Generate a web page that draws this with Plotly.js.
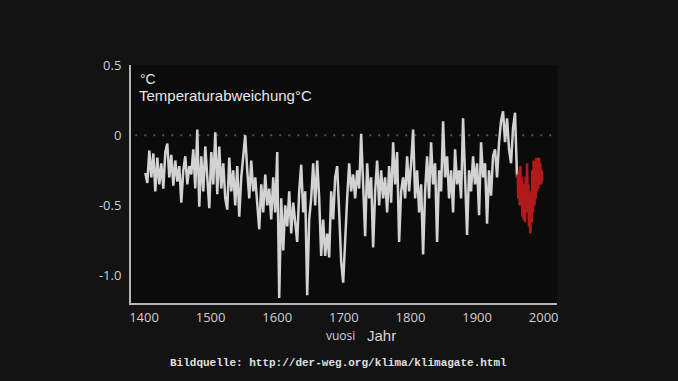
<!DOCTYPE html>
<html>
<head>
<meta charset="utf-8">
<script src="https://cdn.plot.ly/plotly-3.0.1.min.js"></script>
<style>html,body{margin:0;padding:0;background:#131313;}#chart{width:678px;height:381px;}</style>
</head>
<body>
<div id="chart"></div>
<script>
// Reconstruction series (white), years
const reconYears = [
1402,1405,1408,1411,1414,1417,1420,1423,1426,1429,
1432,1435,1438,1441,1444,1447,1450,1453,1456,1459,
1462,1465,1468,1471,1474,1477,1480,1483,1486,1489,
1492,1495,1498,1501,1504,1507,1510,1513,1516,1519,
1522,1525,1528,1531,1534,1537,1540,1543,1546,1549,
1552,1555,1558,1561,1564,1567,1570,1573,1576,1579,
1582,1585,1588,1591,1594,1597,1600,1603,1606,1609,
1612,1615,1618,1621,1624,1627,1630,1633,1636,1639,
1642,1645,1648,1651,1654,1657,1660,1663,1666,1669,
1672,1675,1678,1681,1684,1687,1690,1693,1696,1699,
1702,1705,1708,1711,1714,1717,1720,1723,1726,1729,
1732,1735,1738,1741,1744,1747,1750,1753,1756,1759,
1762,1765,1768,1771,1774,1777,1780,1783,1786,1789,
1792,1795,1798,1801,1804,1807,1810,1813,1816,1819,
1822,1825,1828,1831,1834,1837,1840,1843,1846,1849,
1852,1855,1858,1861,1864,1867,1870,1873,1876,1879,
1882,1885,1888,1891,1894,1897,1900,1903,1906,1909,
1912,1915,1918,1921,1924,1927,1930,1933,1936,1939,
1942,1945,1948,1951,1954,1957,1960
];
const reconValues = [
-0.27,-0.34,-0.11,-0.30,-0.13,-0.40,-0.16,-0.35,-0.20,-0.38,
-0.12,-0.06,-0.30,-0.14,-0.36,-0.18,-0.33,-0.22,-0.48,-0.25,
-0.15,-0.35,-0.22,-0.28,-0.10,-0.38,0.04,-0.51,-0.15,-0.40,
-0.08,-0.30,-0.52,-0.12,-0.35,0.02,-0.42,-0.08,-0.38,-0.20,
-0.45,-0.53,-0.16,-0.40,-0.25,-0.50,-0.22,-0.58,-0.30,-0.15,
0.00,-0.25,-0.45,-0.18,-0.40,-0.30,-0.52,-0.67,-0.35,-0.55,
-0.28,-0.50,-0.38,-0.60,-0.30,-0.55,-0.12,-1.16,-0.45,-0.82,
-0.50,-0.65,-0.40,-0.70,-0.48,-0.60,-0.76,-0.40,-0.21,-0.55,
-0.40,-1.14,-0.60,-0.45,-0.20,-0.50,-0.18,-0.45,-0.86,-0.60,
-0.86,-0.70,-0.87,-0.40,-0.60,-0.30,-0.22,-0.55,-0.90,-1.05,
-0.70,-0.45,-0.20,-0.40,-0.28,-0.45,-0.25,-0.38,0.01,-0.35,
-0.72,-0.20,-0.45,-0.30,-0.80,-0.40,-0.18,-0.50,-0.25,-0.45,
-0.30,-0.55,-0.22,-0.48,-0.05,-0.35,-0.12,-0.76,-0.40,-0.30,
-0.45,-0.15,-0.40,-0.20,0.04,-0.45,-0.25,-0.55,-0.35,-0.85,
-0.40,-0.15,-0.45,-0.05,-0.35,-0.20,-0.76,-0.25,-0.40,0.10,
-0.30,-0.15,-0.45,-0.25,-0.55,-0.10,-0.35,-0.25,-0.45,0.12,
-0.30,-0.71,-0.25,-0.40,-0.15,-0.35,-0.20,-0.57,-0.05,-0.30,
-0.20,-0.63,-0.25,-0.43,-0.15,-0.10,-0.30,-0.05,0.10,0.17,
-0.05,0.12,-0.10,-0.20,0.05,0.16,-0.30
];
// Recent series (red)
const recentYears = [
1960,1961,1962,1963,1964,1965,1966,1967,1968,1969,
1970,1971,1972,1973,1974,1975,1976,1977,1978,1979,
1980,1981,1982,1983,1984,1985,1986,1987,1988,1989,
1990,1991,1992,1993,1994,1995,1996,1997,1998
];
const recentValues = [
-0.30,-0.28,-0.45,-0.25,-0.50,-0.22,-0.48,-0.30,-0.58,-0.35,
-0.60,-0.40,-0.62,-0.30,-0.55,-0.20,-0.52,-0.35,-0.65,-0.45,
-0.70,-0.40,-0.62,-0.25,-0.55,-0.18,-0.50,-0.30,-0.45,-0.16,
-0.40,-0.22,-0.38,-0.16,-0.30,-0.20,-0.35,-0.25,-0.33
];
const xTickVals = [1400,1500,1600,1700,1800,1900,2000];
const xTickText = ['1400','1500','1600','1700','1800','1900','2000'];
const yTickVals = [0.5,0,-0.5,-1.0];
const yTickText = ['0.5','0','-0.5','-1.0'];

const tickFont = {family:'Open Sans, sans-serif', size:13, color:'#d0d0d0'};

const traces = [
  {x: reconYears, y: reconValues, type:'scatter', mode:'lines',
   line:{color:'#d2d2d2', width:2.5}, hoverinfo:'skip', showlegend:false},
  {x: recentYears, y: recentValues, type:'scatter', mode:'lines',
   line:{color:'#b01a1a', width:2.6}, hoverinfo:'skip', showlegend:false}
];

const layout = {
  width:678, height:381,
  margin:{l:131, r:121, t:65, b:78},
  paper_bgcolor:'#131313', plot_bgcolor:'#0b0b0b',
  showlegend:false,
  xaxis:{range:[1380.5,2020], tickvals:xTickVals, ticktext:xTickText,
    showgrid:false, zeroline:false, showline:true, linecolor:'#b5b5b5', linewidth:2,
    ticks:'', tickfont:tickFont, ticklabelstandoff:1, fixedrange:true},
  yaxis:{range:[-1.195,0.5], tickvals:yTickVals, ticktext:yTickText,
    showgrid:false, zeroline:false, showline:true, linecolor:'#b5b5b5', linewidth:2,
    ticks:'', tickfont:tickFont, ticklabelstandoff:5, fixedrange:true},
  shapes:[
    {type:'line', xref:'paper', yref:'y', x0:0.01, x1:0.995, y0:0, y1:0,
     line:{color:'#555555', width:2, dash:'2px,7px'}, layer:'below'}
  ],
  annotations:[
    {xref:'paper', yref:'paper', x:0.016, y:0.94, xanchor:'left', yanchor:'middle',
     text:'°C', showarrow:false, font:{family:'Liberation Sans, Arial, sans-serif', size:14, color:'#e6e6e6'}},
    {xref:'paper', yref:'paper', x:0.014, y:0.87, xanchor:'left', yanchor:'middle',
     text:'Temperaturabweichung°C', showarrow:false, font:{family:'Liberation Sans, Arial, sans-serif', size:15, color:'#e6e6e6'}},
    {xref:'paper', yref:'paper', x:(340-131)/426, y:(303-335)/238, xanchor:'center', yanchor:'middle',
     text:'vuosi', showarrow:false, font:{family:'Open Sans, sans-serif', size:12, color:'#d0d0d0'}},
    {xref:'paper', yref:'paper', x:(381-131)/426, y:(303-335)/238, xanchor:'center', yanchor:'middle',
     text:'Jahr', showarrow:false, font:{family:'Liberation Sans, Arial, sans-serif', size:15, color:'#d6d6d6'}},
    {xref:'paper', yref:'paper', x:(338-131)/426, y:(303-363)/238, xanchor:'center', yanchor:'middle',
     text:'<b>Bildquelle: http://der-weg.org/klima/klimagate.html</b>', showarrow:false,
     font:{family:'Liberation Mono, DejaVu Sans Mono, monospace', size:11, color:'#e0e0e0'}}
  ]
};

Plotly.newPlot('chart', traces, layout, {displayModeBar:false, staticPlot:true});
</script>
</body>
</html>
